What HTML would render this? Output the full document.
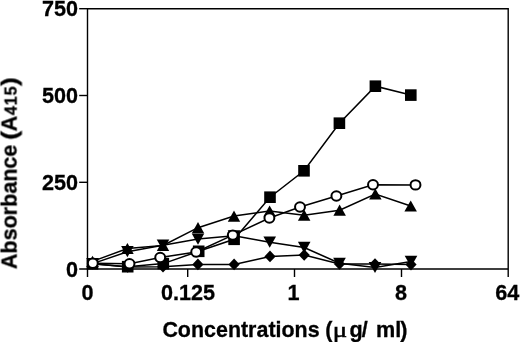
<!DOCTYPE html>
<html><head><meta charset="utf-8"><title>chart</title>
<style>
html,body{margin:0;padding:0;background:#fff;}
svg{display:block;will-change:transform;}
text{font-family:"Liberation Sans",sans-serif;font-weight:bold;font-size:21.6px;fill:#000;stroke:#000;stroke-width:0.3px;}
</style></head><body>
<svg width="520" height="342" viewBox="0 0 520 342">
<defs><filter id="bl" x="0" y="0" width="520" height="342" filterUnits="userSpaceOnUse"><feGaussianBlur stdDeviation="0.4"/></filter></defs>
<rect width="520" height="342" fill="#fff"/>
<g filter="url(#bl)">
<path d="M87.5,277.0 V8.7 H508.2 V277.0 M79.2,269.0 H508.2" fill="none" stroke="#000" stroke-width="1.4"/>
<line x1="79.2" x2="87.5" y1="8.7" y2="8.7" stroke="#000" stroke-width="1.4"/>
<line x1="79.2" x2="87.5" y1="95.5" y2="95.5" stroke="#000" stroke-width="1.4"/>
<line x1="79.2" x2="87.5" y1="182.3" y2="182.3" stroke="#000" stroke-width="1.4"/>
<line x1="187.7" x2="187.7" y1="269.0" y2="277.0" stroke="#000" stroke-width="1.4"/>
<line x1="294.5" x2="294.5" y1="269.0" y2="277.0" stroke="#000" stroke-width="1.4"/>
<line x1="401.5" x2="401.5" y1="269.0" y2="277.0" stroke="#000" stroke-width="1.4"/>
<polyline points="92.5,263.8 127.7,266.7 163.3,263.6 198.7,251.3 234.1,239.3 270.0,197.2 304.0,170.8 339.4,123.2 375.4,86.2 410.8,95.1" fill="none" stroke="#000" stroke-width="1.5"/>
<polyline points="92.5,261.4 127.4,248.5 163.0,245.4 198.0,227.7 234.0,216.1 269.6,211.0 304.1,215.2 339.6,210.2 375.3,194.0 410.7,206.0" fill="none" stroke="#000" stroke-width="1.5"/>
<polyline points="92.7,263.6 127.4,251.7 163.0,245.2 198.0,239.1 234.0,235.8 269.7,242.2 304.2,247.5 339.5,263.3 375.0,267.5 411.0,261.5" fill="none" stroke="#000" stroke-width="1.5"/>
<polyline points="92.7,263.8 127.7,267.0 163.0,266.7 197.9,264.4 234.1,264.4 270.0,256.4 304.2,255.0 339.5,264.0 375.0,264.0 411.0,264.6" fill="none" stroke="#000" stroke-width="1.5"/>
<polyline points="92.8,263.3 129.5,263.7 160.2,257.5 196.2,252.0 232.8,235.1 269.4,218.0 300.0,207.0 336.4,196.0 373.0,184.7 415.5,184.9" fill="none" stroke="#000" stroke-width="1.5"/>
<rect x="86.7" y="258.0" width="11.6" height="11.6" fill="#000"/>
<rect x="121.9" y="260.9" width="11.6" height="11.6" fill="#000"/>
<rect x="157.5" y="257.8" width="11.6" height="11.6" fill="#000"/>
<rect x="192.9" y="245.5" width="11.6" height="11.6" fill="#000"/>
<rect x="228.3" y="233.5" width="11.6" height="11.6" fill="#000"/>
<rect x="264.2" y="191.4" width="11.6" height="11.6" fill="#000"/>
<rect x="298.2" y="165.0" width="11.6" height="11.6" fill="#000"/>
<rect x="333.6" y="117.4" width="11.6" height="11.6" fill="#000"/>
<rect x="369.6" y="80.4" width="11.6" height="11.6" fill="#000"/>
<rect x="405.0" y="89.3" width="11.6" height="11.6" fill="#000"/>
<polygon points="92.5,255.8 98.8,267.0 86.2,267.0" fill="#000"/>
<polygon points="127.4,242.9 133.7,254.1 121.2,254.1" fill="#000"/>
<polygon points="163.0,239.8 169.2,251.0 156.8,251.0" fill="#000"/>
<polygon points="198.0,222.1 204.2,233.3 191.8,233.3" fill="#000"/>
<polygon points="234.0,210.5 240.2,221.7 227.8,221.7" fill="#000"/>
<polygon points="269.6,205.4 275.9,216.6 263.4,216.6" fill="#000"/>
<polygon points="304.1,209.6 310.4,220.8 297.9,220.8" fill="#000"/>
<polygon points="339.6,204.6 345.9,215.8 333.4,215.8" fill="#000"/>
<polygon points="375.3,188.4 381.6,199.6 369.1,199.6" fill="#000"/>
<polygon points="410.7,200.4 416.9,211.6 404.4,211.6" fill="#000"/>
<polygon points="92.7,269.2 99.0,258.0 86.4,258.0" fill="#000"/>
<polygon points="127.4,257.3 133.7,246.0 121.1,246.0" fill="#000"/>
<polygon points="163.0,250.8 169.3,239.5 156.7,239.5" fill="#000"/>
<polygon points="198.0,244.8 204.3,233.4 191.7,233.4" fill="#000"/>
<polygon points="234.0,241.5 240.3,230.2 227.7,230.2" fill="#000"/>
<polygon points="269.7,247.8 276.0,236.5 263.4,236.5" fill="#000"/>
<polygon points="304.2,253.2 310.5,241.8 297.9,241.8" fill="#000"/>
<polygon points="339.5,268.9 345.8,257.7 333.2,257.7" fill="#000"/>
<polygon points="375.0,273.1 381.3,261.9 368.7,261.9" fill="#000"/>
<polygon points="411.0,267.1 417.3,255.8 404.7,255.8" fill="#000"/>
<polygon points="92.7,258.0 98.3,263.8 92.7,269.6 87.1,263.8" fill="#000"/>
<polygon points="127.7,261.2 133.3,267.0 127.7,272.8 122.1,267.0" fill="#000"/>
<polygon points="163.0,260.9 168.6,266.7 163.0,272.5 157.4,266.7" fill="#000"/>
<polygon points="197.9,258.6 203.5,264.4 197.9,270.2 192.3,264.4" fill="#000"/>
<polygon points="234.1,258.6 239.7,264.4 234.1,270.2 228.5,264.4" fill="#000"/>
<polygon points="270.0,250.6 275.6,256.4 270.0,262.2 264.4,256.4" fill="#000"/>
<polygon points="304.2,249.2 309.8,255.0 304.2,260.8 298.6,255.0" fill="#000"/>
<polygon points="339.5,258.2 345.1,264.0 339.5,269.8 333.9,264.0" fill="#000"/>
<polygon points="375.0,258.2 380.6,264.0 375.0,269.8 369.4,264.0" fill="#000"/>
<polygon points="411.0,258.8 416.6,264.6 411.0,270.4 405.4,264.6" fill="#000"/>
<ellipse cx="92.8" cy="263.3" rx="4.95" ry="4.7" fill="#fff" stroke="#000" stroke-width="2.0"/>
<ellipse cx="129.5" cy="263.7" rx="4.95" ry="4.7" fill="#fff" stroke="#000" stroke-width="2.0"/>
<ellipse cx="160.2" cy="257.5" rx="4.95" ry="4.7" fill="#fff" stroke="#000" stroke-width="2.0"/>
<ellipse cx="196.2" cy="252.0" rx="4.95" ry="4.7" fill="#fff" stroke="#000" stroke-width="2.0"/>
<ellipse cx="232.8" cy="235.1" rx="4.95" ry="4.7" fill="#fff" stroke="#000" stroke-width="2.0"/>
<ellipse cx="269.4" cy="218.0" rx="4.95" ry="4.7" fill="#fff" stroke="#000" stroke-width="2.0"/>
<ellipse cx="300.0" cy="207.0" rx="4.95" ry="4.7" fill="#fff" stroke="#000" stroke-width="2.0"/>
<ellipse cx="336.4" cy="196.0" rx="4.95" ry="4.7" fill="#fff" stroke="#000" stroke-width="2.0"/>
<ellipse cx="373.0" cy="184.7" rx="4.95" ry="4.7" fill="#fff" stroke="#000" stroke-width="2.0"/>
<ellipse cx="415.5" cy="184.9" rx="4.95" ry="4.7" fill="#fff" stroke="#000" stroke-width="2.0"/>
<text x="78" y="16.3" text-anchor="end">750</text>
<text x="78" y="103.1" text-anchor="end">500</text>
<text x="78" y="189.9" text-anchor="end">250</text>
<text x="78" y="276.6" text-anchor="end">0</text>
<text x="87.5" y="300.2" text-anchor="middle">0</text>
<text x="188" y="300.2" text-anchor="middle">0.125</text>
<text x="293.6" y="300.2" text-anchor="middle">1</text>
<text x="401" y="300.2" text-anchor="middle">8</text>
<text x="507.3" y="300.2" text-anchor="middle">64</text>
<text x="162.4" y="337" textLength="157.2" lengthAdjust="spacingAndGlyphs">Concentrations</text>
<text x="325.3" y="337">(</text>
<text transform="translate(332.8,337) scale(1.22,1)" style="font-family:'Liberation Serif',serif;font-weight:normal;font-size:22px;stroke-width:0.55px">μ</text>
<text x="349.5" y="337">g</text>
<text x="361.8" y="337">/</text>
<text x="376" y="337">ml</text>
<text x="400.2" y="337">)</text>
<g transform="translate(16.6,268.4) rotate(-90)"><text x="-0.8" y="0" textLength="124.6" lengthAdjust="spacingAndGlyphs">Absorbance</text><text transform="translate(128.6,0) scale(1.25,1)">(</text><text x="137" y="0">A</text><text x="153.2" y="0" style="font-size:16.2px;letter-spacing:0.9px">415</text><text transform="translate(182.6,0) scale(1.2,1)">)</text></g>
</g>
</svg>
</body></html>
